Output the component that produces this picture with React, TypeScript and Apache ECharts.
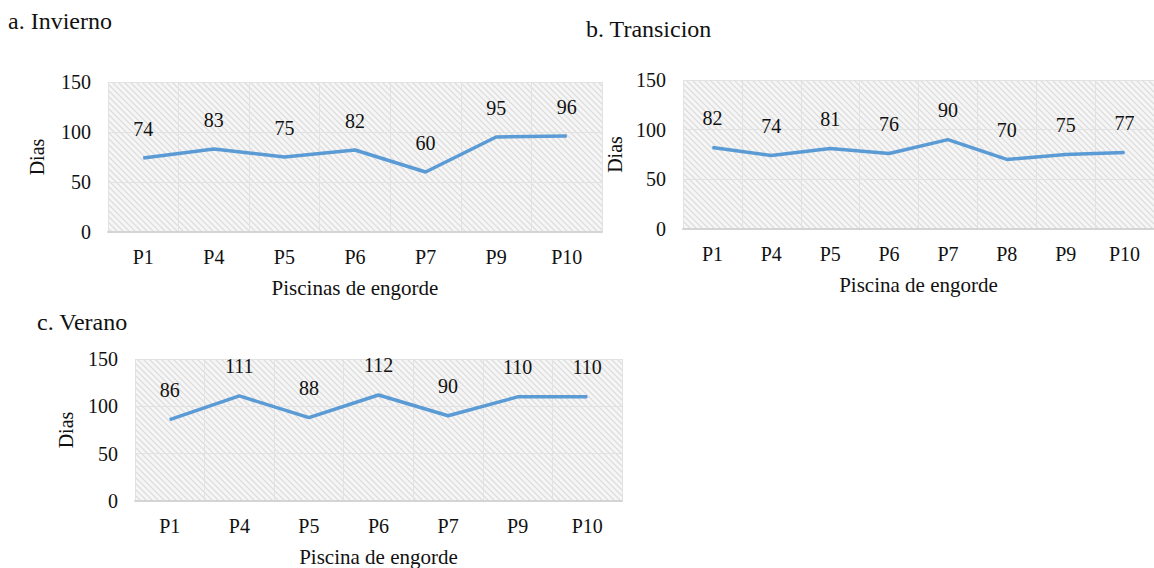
import React, { useEffect, useRef } from "react";
import * as echarts from "echarts";

// ---- Data ----
const titles = ["a. Invierno", "b. Transicion", "c. Verano"];
const xNames = ["Piscinas de engorde", "Piscina de engorde", "Piscina de engorde"];
const yName = "Dias";
const catsA = ["P1", "P4", "P5", "P6", "P7", "P9", "P10"];
const valsA = [74, 83, 75, 82, 60, 95, 96];
const catsB = ["P1", "P4", "P5", "P6", "P7", "P8", "P9", "P10"];
const valsB = [82, 74, 81, 76, 90, 70, 75, 77];
const catsC = ["P1", "P4", "P5", "P6", "P7", "P9", "P10"];
const valsC = [86, 111, 88, 112, 90, 110, 110];
const yMin = 0;
const yMax = 150;
const yStep = 50;

const FONT = "Liberation Serif, Times New Roman, serif";
const TEXT = "#111";
const LINE = "#5b9bd5";
const GRIDLINE = "#e2e2e2";

function makeHatch(): any {
  const n = 6;
  const c = document.createElement("canvas");
  c.width = n;
  c.height = n;
  const ctx = c.getContext("2d");
  if (!ctx) return "#f0f0f0";
  ctx.fillStyle = "#f6f6f6";
  ctx.fillRect(0, 0, n, n);
  ctx.strokeStyle = "#dddddd";
  ctx.lineWidth = 1.3;
  ctx.beginPath();
  ctx.moveTo(-n, 0);
  ctx.lineTo(n, 2 * n);
  ctx.moveTo(0, 0);
  ctx.lineTo(n, n);
  ctx.moveTo(0, -n);
  ctx.lineTo(2 * n, n);
  ctx.stroke();
  return { image: c, repeat: "repeat", imageWidth: n, imageHeight: n };
}

export default function App() {
  const ref = useRef<HTMLDivElement>(null);

  useEffect(() => {
    if (!ref.current) return;
    const chart = echarts.init(ref.current, undefined, { renderer: "svg" });
    const hatch = makeHatch();

    const grids = [
      { left: 108, top: 82, width: 494, height: 150 },
      { left: 683, top: 80, width: 475, height: 149 },
      { left: 135, top: 359, width: 487, height: 143 },
    ];
    const cats = [catsA, catsB, catsC];
    const vals = [valsA, valsB, valsC];
    const yNameGaps = [61, 58, 59];

    const option: any = {
      animation: false,
      textStyle: { fontFamily: FONT },
      title: [
        { text: titles[0], left: 8, top: 9 },
        { text: titles[1], left: 586, top: 17 },
        { text: titles[2], left: 37, top: 310 },
      ].map((t) => ({
        ...t,
        padding: 0,
        textStyle: { fontFamily: FONT, fontSize: 24, fontWeight: "normal", color: TEXT },
      })),
      grid: grids.map((g) => ({
        ...g,
        show: true,
        backgroundColor: hatch,
        borderWidth: 0,
        containLabel: false,
      })),
      xAxis: cats.map((c, i) => ({
        type: "category",
        gridIndex: i,
        data: c,
        boundaryGap: true,
        name: xNames[i],
        nameLocation: "middle",
        nameGap: 45,
        nameTextStyle: { fontFamily: FONT, fontSize: 21, color: TEXT },
        axisLine: { show: true, lineStyle: { color: "#d4d4d4", width: 2 } },
        axisTick: { show: false },
        axisLabel: { fontFamily: FONT, fontSize: 20, color: TEXT, margin: 15 },
        splitLine: { show: true, lineStyle: { color: GRIDLINE, width: 1 } },
      })),
      yAxis: cats.map((_, i) => ({
        type: "value",
        gridIndex: i,
        min: yMin,
        max: yMax,
        interval: yStep,
        name: yName,
        nameLocation: "middle",
        nameGap: yNameGaps[i],
        nameTextStyle: { fontFamily: FONT, fontSize: 20, color: TEXT },
        axisLine: { show: false },
        axisTick: { show: false },
        axisLabel: { fontFamily: FONT, fontSize: 20, color: TEXT, margin: 17 },
        splitLine: { show: true, lineStyle: { color: GRIDLINE, width: 1 } },
      })),
      series: vals.map((v, i) => ({
        type: "line",
        xAxisIndex: i,
        yAxisIndex: i,
        data: v,
        symbol: "circle",
        symbolSize: 1,
        itemStyle: { color: LINE },
        lineStyle: { color: LINE, width: 3.5 },
        label: {
          show: true,
          position: "top",
          distance: 19,
          fontFamily: FONT,
          fontSize: 20,
          color: TEXT,
        },
      })),
    };

    chart.setOption(option);
    return () => chart.dispose();
  }, []);

  return (
    <div
      ref={ref}
      style={{ position: "absolute", left: 0, top: 0, width: 1154, height: 568, background: "#fff" }}
    />
  );
}
